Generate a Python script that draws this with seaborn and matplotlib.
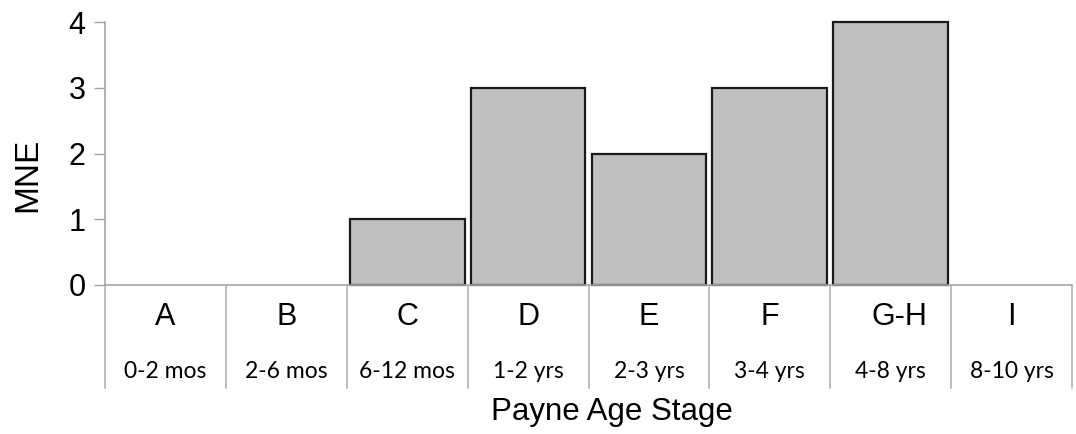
import pandas as pd
import matplotlib.pyplot as plt
import seaborn as sns

stages = ['A', 'B', 'C', 'D', 'E', 'F', 'G-H', 'I']
ages = ['0-2 mos', '2-6 mos', '6-12 mos', '1-2 yrs', '2-3 yrs', '3-4 yrs', '4-8 yrs', '8-10 yrs']
mne = [0, 0, 1, 3, 2, 3, 4, 0]
yticks = [0, 1, 2, 3, 4]

df = pd.DataFrame({'stage': stages, 'age': ages, 'mne': mne})

sns.set_style('white')
plt.rcParams['font.family'] = ['Liberation Sans', 'DejaVu Sans']
plt.rcParams['text.color'] = 'black'
plt.rcParams['ytick.labelcolor'] = 'black'

fig = plt.figure(figsize=(10.76, 4.34), dpi=100)
ax = fig.add_axes([105 / 1076, 149 / 434, 967 / 1076, 263 / 434])

sns.barplot(data=df, x='stage', y='mne', color='#bfbfbf', edgecolor='#1a1a1a',
            linewidth=1.6, width=0.95, saturation=1, ax=ax)
for p in ax.patches:
    p.set_clip_on(False)
    if p.get_height() == 0:
        p.set_edgecolor('none')

ax.set_ylim(0, 4)
ax.set_xlim(-0.5, len(stages) - 0.5)
ax.set_yticks(yticks)
ax.set_yticklabels([str(t) for t in yticks], fontsize=22, color='black')
ax.set_xticks([])
ax.set_xlabel('')
ax.set_ylabel('')
ax.tick_params(axis='y', length=8, width=1, color='#a6a6a6', left=True, pad=6)
for s in ['top', 'right']:
    ax.spines[s].set_visible(False)
for s in ['left', 'bottom']:
    ax.spines[s].set_color('#a6a6a6')
    ax.spines[s].set_linewidth(1.2)

# category table under the axis
px = 4 / 263
for i in range(len(stages) + 1):
    ax.plot([i - 0.5, i - 0.5], [0, -103 * px], color='#b3b3b3', lw=1.2, clip_on=False)
for i, (st, ag) in enumerate(zip(stages, ages)):
    ax.text(i + (0.07 if st == 'G-H' else 0), -32 * px, st, ha='center', va='center',
            fontsize=22, color='black', clip_on=False)
    ax.text(i, -86 * px, ag, ha='center', va='center', fontsize=16.5, color='black',
            family=['Lato', 'DejaVu Sans'], clip_on=False)

fig.text(612 / 1076, 1 - 412 / 434, 'Payne Age Stage', ha='center', va='center',
         fontsize=22.5, color='black')
fig.text(28 / 1076, 1 - 175 / 434, 'MNE', ha='center', va='center', rotation=90,
         fontsize=24, color='black')

fig.savefig('out.png', dpi=100)
